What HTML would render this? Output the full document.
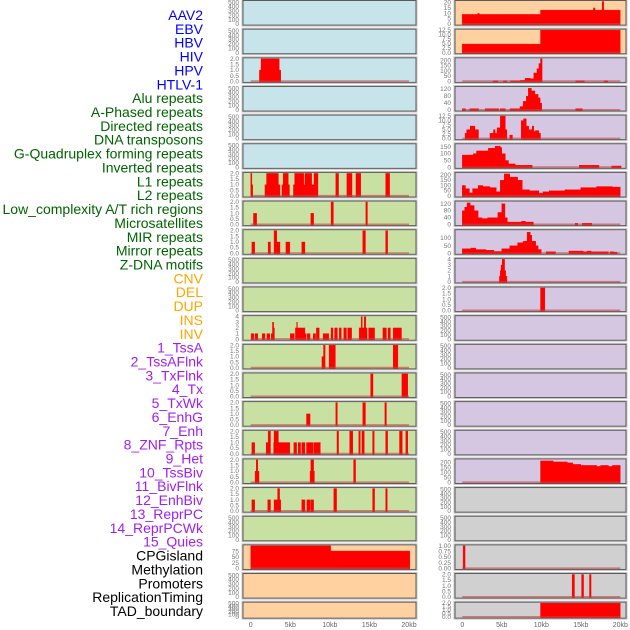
<!DOCTYPE html>
<html><head><meta charset="utf-8"><style>
html,body{margin:0;padding:0;background:#fff;width:630px;height:630px;overflow:hidden}
svg{display:block;font-family:"Liberation Sans",sans-serif}
</style></head><body>
<svg id="chart" width="630" height="630" viewBox="0 0 630 630" xmlns="http://www.w3.org/2000/svg"></svg>
<script>
// ---- labels ----
const trackLabels = ["AAV2","EBV","HBV","HIV","HPV","HTLV-1","Alu repeats","A-Phased repeats","Directed repeats","DNA transposons","G-Quadruplex forming repeats","Inverted repeats","L1 repeats","L2 repeats","Low_complexity A/T rich regions","Microsatellites","MIR repeats","Mirror repeats","Z-DNA motifs","CNV","DEL","DUP","INS","INV","1_TssA","2_TssAFlnk","3_TxFlnk","4_Tx","5_TxWk","6_EnhG","7_Enh","8_ZNF_Rpts","9_Het","10_TssBiv","11_BivFlnk","12_EnhBiv","13_ReprPC","14_ReprPCWk","15_Quies","CPGisland","Methylation","Promoters","ReplicationTiming","TAD_boundary"];
const labelGroups = [6,13,5,15,5];
const xTickValues = [0,5,10,15,20];
const xTickLabels = ["0","5kb","10kb","15kb","20kb"];

// ---- tick label sets ----
const ticks500 = ["0","100","200","300","400","500"];
const ticks2 = ["0.0","0.5","1.0","1.5","2.0"];
const ticks4 = ["0","1","2","3","4"];
const ticks12 = ["0.0","2.5","5.0","7.5","10.0","12.5"];
const ticks200 = ["0","50","100","150","200"];
const ticks150 = ["0","50","100","150"];
const ticks120 = ["0","40","80","120"];
const ticks100 = ["0","50","100"];
const ticks20 = ["0","5","10","15","20"];
const ticks75 = ["0","25","50","75"];
const ticks1 = ["0.00","0.25","0.50","0.75","1.00"];

// ---- left column segments [startKb, endKb, value] ----
const L2_segs = [[1.1,1.3,1],[1.3,3.6,2],[3.6,3.8,1]];
const L6_segs = [[0,0.15,2],[0.15,0.25,1],[1.8,2.0,1],[2.0,3.5,2],[3.5,3.7,1],[3.95,4.1,1],[4.1,4.75,2],[4.75,4.9,1],[5.4,5.55,1],[5.55,6.7,2],[6.7,6.85,1],[6.85,7.7,2],[7.7,8.0,1],[8.0,8.5,2],[10.75,11.1,2],[12.15,12.8,2],[13.3,13.9,2],[17.05,17.55,2]];
const L7_segs = [[0.35,0.75,1],[7.6,7.95,1],[10.15,10.45,2],[14.55,14.75,2]];
const L8_segs = [[0.15,0.5,1],[2.2,2.5,1],[2.95,3.3,2],[3.3,3.7,1],[4.45,4.95,1],[6.45,6.85,1],[14.15,14.5,2],[17.05,17.3,2]];
const L11_segs = [[0.05,0.4,1],[0.55,0.9,1],[1.45,1.8,1],[2.05,2.4,1],[2.6,2.75,1],[2.75,2.9,3],[2.9,3.0,2],[5.0,5.5,1],[5.65,5.8,2],[5.8,5.9,3],[5.9,6.85,2],[6.85,7.0,1],[7.15,7.5,1],[7.9,8.2,1],[8.3,8.65,2],[9.15,9.85,1],[10.15,10.4,2],[10.6,10.95,2],[11.2,11.45,2],[11.75,12.1,2],[12.25,12.75,2],[13.7,13.95,2],[13.95,14.1,4],[14.1,14.35,2],[14.35,14.55,4],[14.55,14.7,2],[14.9,15.65,2],[16.7,17.15,2],[17.35,17.65,2],[18.0,19.05,2]];
const L12_segs = [[9.0,9.2,1],[9.2,9.4,2],[9.9,10.7,2],[18.0,18.6,2]];
const L13_segs = [[15.15,15.45,2],[19.1,19.85,2]];
const L14_segs = [[7.05,7.5,1],[10.75,10.95,2],[14.15,14.5,2],[16.95,17.15,2]];
const L15_segs = [[0.15,0.5,1],[1.95,2.2,1],[2.2,2.5,2],[2.9,2.95,1],[2.95,3.5,2],[3.5,4.95,1],[5.45,5.8,1],[6.0,6.3,1],[6.45,6.85,1],[7.05,7.9,1],[8.0,8.55,1],[8.55,8.8,1],[10.9,11.1,2],[12.5,12.9,2],[13.65,13.85,2],[14.05,14.35,2],[15.4,15.6,2],[17.05,17.3,2],[18.8,19.15,2],[19.6,19.85,2]];
const L16_segs = [[0.55,0.7,1],[0.7,0.9,2],[0.9,1.05,1],[7.5,7.6,1],[7.6,7.95,2],[7.95,8.05,1],[13.0,13.25,2]];
const L17_segs = [[0.15,0.5,1],[2.15,2.5,1],[2.95,3.4,1],[3.4,3.65,2],[3.65,3.8,1],[6.45,6.85,1],[7.1,7.5,1],[7.6,7.95,1],[10.5,10.85,2],[15.4,15.65,2],[17.05,17.25,2]];
const L19_segs = [[0,10.1,100],[10.1,20.1,77]];

// ---- right column segments ----
const R0_segs = [[0,9.9,9],[1.95,2.15,10],[9.9,20,13],[16.6,16.8,15],[17.7,17.9,21]];
const R1_segs = [[0,9.9,4.8],[9.9,20,12.5]];
const R2_segs = [[3.9,4.5,5],[5.2,5.65,5],[6.1,7.35,5],[7.35,7.95,10],[7.95,8.6,30],[8.6,9.05,25],[9.05,9.45,80],[9.45,9.7,120],[9.7,9.9,170],[9.9,10.1,215],[14.35,15.45,5],[17.95,18.4,5]];
const R3_segs = [[0,0.4,8],[0.95,2.05,8],[2.9,4.6,8],[4.8,5.45,8],[6.05,7.3,8],[7.3,7.7,20],[7.7,8.1,50],[8.1,8.35,80],[8.35,8.75,125],[8.75,9.2,110],[9.2,9.6,90],[9.6,9.85,70],[9.85,10.05,40],[14.35,15.2,8]];
const R4_segs = [[0.35,0.55,3],[0.55,1.0,5],[1.0,1.6,7],[1.6,2.05,5],[3.5,3.95,3],[3.95,4.15,5],[4.15,4.4,3],[4.4,4.8,6],[4.8,5.45,12.5],[5.45,5.65,5],[6.0,6.35,2],[7.45,7.75,10],[7.75,8.1,11],[8.1,8.4,7],[8.4,8.85,5],[8.85,9.05,7],[9.05,9.25,4],[9.25,9.7,4.5],[9.7,9.9,3]];
const R5_segs = [[0,1.4,90],[1.4,1.8,100],[1.8,3.3,120],[3.3,4.15,140],[4.15,4.8,155],[4.8,5.0,145],[5.0,5.45,100],[5.45,5.85,50],[5.85,6.7,25],[6.7,8.85,15],[14.8,17.3,15],[18.9,20.1,10]];
const R6_segs = [[0,0.4,100],[0.4,0.9,70],[0.9,1.3,30],[1.3,2.0,70],[2.0,2.6,100],[2.6,3.5,90],[3.5,4.3,80],[4.3,4.8,40],[4.8,5.3,150],[5.3,6.0,210],[6.0,7.0,180],[7.0,7.6,150],[7.6,8.5,60],[8.5,9.7,50],[9.7,10.2,25],[10.2,11,40],[11,13,50],[13,15,60],[15,17,80],[17,19,90],[19,20,85]];
const R7_segs = [[0,0.3,80],[0.3,0.6,100],[0.6,1.0,125],[1.0,1.5,110],[1.5,2.0,80],[2.0,2.5,40],[2.5,3.2,35],[3.2,4.5,40],[4.5,5.0,70],[5.0,5.4,120],[5.4,5.7,40],[5.7,7.5,15],[7.5,8.0,20],[8.0,9.0,15],[14.3,14.6,8],[15.2,16.4,8]];
const R8_segs = [[0,1.1,30],[1.1,1.7,35],[1.7,3,25],[3,4,20],[4,5,12],[5,6,30],[6,7,50],[7,7.7,70],[7.7,8.2,80],[8.2,8.6,140],[8.6,8.8,120],[8.8,9.3,80],[9.3,9.6,50],[9.6,10,25],[10.6,11.8,10],[13.5,15.3,15],[15.3,15.8,10],[15.8,16.3,15],[16.3,18.5,10],[18.7,19.2,10],[19.2,19.6,8]];
const R9_segs = [[4.7,4.8,1],[4.8,4.9,2],[4.9,5.05,3],[5.05,5.35,4],[5.35,5.5,2],[5.5,5.65,1]];
const R10_segs = [[9.9,10.45,2]];
const R16_segs = [[9.9,11.5,215],[11.5,13.3,205],[13.3,14.0,195],[14,15,180],[15,17,170],[17,17.5,160],[17.5,18.5,170],[18.5,19,160],[19,20,170]];
const R19_segs = [[0.1,0.35,1]];
const R20_segs = [[13.9,14.2,2],[15.1,15.35,2],[16.1,16.3,2]];
const R21_segs = [[9.9,20,2]];

// ---- panel config (styling only) ----
const BLUE="#c8e4eb", GREEN="#c8e1a2", ORANGE="#ffd1a1", PURPLE="#d5c6e2", GRAY="#d0d0d0";
const leftPanels = [
 [BLUE,ticks500,520,null],[BLUE,ticks500,520,null],[BLUE,ticks2,2,L2_segs],[BLUE,ticks500,520,null],[BLUE,ticks500,520,null],[BLUE,ticks500,520,null],
 [GREEN,ticks2,2,L6_segs],[GREEN,ticks2,2,L7_segs],[GREEN,ticks2,2,L8_segs],[GREEN,ticks500,520,null],[GREEN,ticks500,520,null],
 [GREEN,ticks4,4,L11_segs],[GREEN,ticks2,2,L12_segs],[GREEN,ticks2,2,L13_segs],[GREEN,ticks2,2,L14_segs],[GREEN,ticks2,2,L15_segs],
 [GREEN,ticks2,2,L16_segs],[GREEN,ticks2,2,L17_segs],[GREEN,ticks500,520,null],[ORANGE,ticks75,100,L19_segs],[ORANGE,ticks500,520,null],[ORANGE,ticks500,520,null]];
const rightPanels = [
 [ORANGE,ticks20,21,R0_segs],[ORANGE,ticks12,12.5,R1_segs],[PURPLE,ticks200,215,R2_segs],[PURPLE,ticks120,130,R3_segs],[PURPLE,ticks12,12.5,R4_segs],
 [PURPLE,ticks150,165,R5_segs],[PURPLE,ticks200,215,R6_segs],[PURPLE,ticks120,130,R7_segs],[PURPLE,ticks100,150,R8_segs],[PURPLE,ticks4,4,R9_segs],
 [PURPLE,ticks2,2,R10_segs],[PURPLE,ticks500,520,null],[PURPLE,ticks500,520,null],[PURPLE,ticks500,520,null],[PURPLE,ticks500,520,null],[PURPLE,ticks500,520,null],
 [PURPLE,ticks200,225,R16_segs],[GRAY,ticks500,520,null],[GRAY,ticks500,520,null],[GRAY,ticks1,1,R19_segs],[GRAY,ticks2,2,R20_segs],[GRAY,ticks2,2,R21_segs]];

const NS="http://www.w3.org/2000/svg";
const svg=document.getElementById('chart');
function mk(tag,attrs,parent){const e=document.createElementNS(NS,tag);for(const k in attrs)e.setAttribute(k,attrs[k]);(parent||svg).appendChild(e);return e;}

// labels
const groupColors=["#0000ff","#006400","#ffa500","#a020f0","#000000"];
let gi=0,cnt=0;
trackLabels.forEach((t,i)=>{
  while(cnt>=labelGroups[gi]){gi++;cnt=0;} cnt++;
  const tx=mk('text',{x:203,y:15+i*13.86+5,'text-anchor':'end','font-size':'14',fill:groupColors[gi]});
  
  
  tx.textContent=t;
});

const ROW=28.65, H=24.6;
function drawColumn(panels,x0,x1,d0,d1,tickX,colName){
  const xs=kb=>d0+(kb/20)*(d1-d0);
  panels.forEach((p,i)=>{
    const [bg,tks,ymax,segs]=p;
    const top=0.5+i*ROW, h=(i===panels.length-1)?16:H;
    const g=mk('g',{});
    
    
    mk('rect',{x:x0-1,y:top-1,width:x1-x0+2,height:h+2,fill:'none',stroke:'#c8c8c8','stroke-width':1},g);
    mk('rect',{x:x0,y:top,width:x1-x0,height:h,fill:bg,stroke:'#5a5a5a','stroke-width':1},g);
    const yb=top+h-1, yr=h-2;
    const ys=v=>yb-(v/ymax)*yr;
    tks.forEach(t=>{
      const v=parseFloat(t);
      const tt=mk('text',{x:tickX,y:ys(v)+2,'text-anchor':'end','font-size':'6.5',fill:'#777'},g);
      
      
      tt.textContent=t;
    });
    if(segs){
      segs.forEach(s=>{
        const y=Math.max(ys(s[2]),top+0.5);
        const r=mk('rect',{x:xs(s[0]),y:y,width:Math.max(xs(s[1])-xs(s[0]),0.8),height:yb-y+0.5,fill:'#ff0000',stroke:'#ff0000','stroke-width':0.4},g);
        
        
      });
      const bl=mk('line',{x1:xs(0),x2:xs(20),y1:yb-0.3,y2:yb-0.3,stroke:'#c84040','stroke-opacity':0.6,'stroke-width':1.6},g);
      
      
    }
  });
  xTickValues.forEach((v,j)=>{
    const t=mk('text',{x:xs(v),y:627,'text-anchor':'middle','font-size':'7',fill:'#666'});
    
    
    t.textContent=xTickLabels[j];
  });
}
drawColumn(leftPanels,243,416,250.7,409,239,'left');
drawColumn(rightPanels,455,626,462.3,620.3,451,'right');
</script>
</body></html>
